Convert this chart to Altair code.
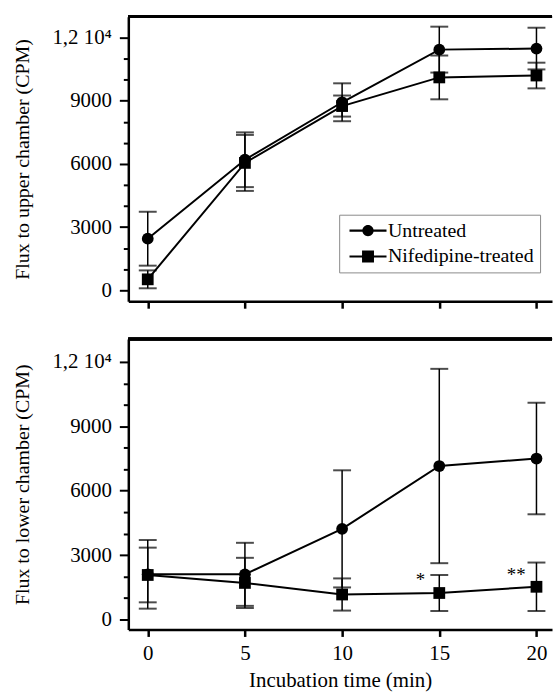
import altair as alt
import pandas as pd

# ---- data ----
times = [0, 5, 10, 15, 20]
series_names = ["Untreated", "Nifedipine-treated"]

upper_untreated = [2450, 6200, 8930, 11430, 11480]
upper_untreated_err = [1280, 1300, 900, 1090, 990]
upper_nif = [520, 6050, 8750, 10110, 10200]
upper_nif_err = [425, 1330, 500, 1040, 610]

lower_untreated = [2100, 2100, 4220, 7150, 7500]
lower_untreated_err = [1600, 1470, 2730, 4530, 2600]
lower_nif = [2070, 1700, 1160, 1230, 1520]
lower_nif_err = [1275, 1170, 750, 840, 1130]

star_t = [14.03, 18.96]
star_y = [1850, 2080]
star_text = ["*", "**"]

y_ticks = list(range(0, 13000, 1000))
x_ticks = [0, 5, 10, 15, 20]

FONT = "Liberation Serif"
W = 426


def make_df(unt, unt_err, nif, nif_err):
    rows = []
    for name, vals, errs in [(series_names[0], unt, unt_err), (series_names[1], nif, nif_err)]:
        for t, v, e in zip(times, vals, errs):
            rows.append({"series": name, "t": t, "v": v, "lo": v - e, "hi": v + e})
    return pd.DataFrame(rows)


upper_df = make_df(upper_untreated, upper_untreated_err, upper_nif, upper_nif_err)
lower_df = make_df(lower_untreated, lower_untreated_err, lower_nif, lower_nif_err)
stars_df = pd.DataFrame({"t": star_t, "v": star_y, "s": star_text})

LINE_PATH = "M-3.1,-0.17H3.1V0.17H-3.1Z"
CIRC_PATH = LINE_PATH + "M0.95,0A0.95,0.95 0 1,1 -0.95,0A0.95,0.95 0 1,1 0.95,0Z"
SQ_PATH = LINE_PATH + "M-1,-1H1V1H-1Z"


def panel(df, ytitle, ydomain, height, show_xlabels, with_legend, with_stars):
    xscale = alt.Scale(domain=[-1, 20.8], nice=False, zero=False)
    yscale = alt.Scale(domain=ydomain, nice=False, zero=False)
    xaxis = alt.Axis(
        values=x_ticks, labels=show_xlabels, title="Incubation time (min)" if show_xlabels else None,
        tickSize=7, tickWidth=2.5, domainWidth=2.5, grid=False, labelPadding=6,
        titlePadding=6, labelFontSize=21, titleFontSize=21,
    )
    yaxis = alt.Axis(
        values=y_ticks,
        labelExpr="datum.value === 12000 ? '1,2 10\u2074' : (datum.value % 3000 === 0 ? '' + datum.value : '')",
        tickSize={"condition": {"test": "datum.value % 3000 === 0", "value": 9}, "value": 5},
        tickWidth=2, domainWidth=2.5, grid=False, labelOverlap=False, labelPadding=8,
        title=ytitle, titlePadding=20, labelFontSize=21, titleFontSize=20,
    )
    base = alt.Chart(df)
    xs = {"scale": xscale, "axis": xaxis}
    ys = {"scale": yscale, "axis": yaxis}
    lines = base.mark_line(color="black", strokeWidth=2).encode(
        x=alt.X("t:Q", **xs), y=alt.Y("v:Q", **ys), detail="series:N")
    bars = base.mark_rule(color="black", strokeWidth=1.5).encode(
        x=alt.X("t:Q", **xs), y=alt.Y("lo:Q", **ys), y2="hi:Q")
    cap_lo = base.mark_tick(color="black", orient="horizontal", size=18, thickness=2).encode(
        x=alt.X("t:Q", **xs), y=alt.Y("lo:Q", **ys))
    cap_hi = base.mark_tick(color="black", orient="horizontal", size=18, thickness=2).encode(
        x=alt.X("t:Q", **xs), y=alt.Y("hi:Q", **ys))
    shape = alt.Shape("series:N", scale=alt.Scale(domain=series_names, range=["circle", "square"]),
                      legend=None)
    pts = base.mark_point(filled=True, color="black", size=140, opacity=1).encode(
        x=alt.X("t:Q", **xs), y=alt.Y("v:Q", **ys), shape=shape)
    frame_top = alt.Chart(df).mark_rule(color="black", strokeWidth=2.5).encode(
        x=alt.value(0), x2=alt.value(W), y=alt.value(0))
    layers = [lines, bars, cap_lo, cap_hi, pts, frame_top]
    if with_legend:
        legend = alt.Legend(
            title=None, orient="none", legendX=212, legendY=199,
            symbolSize=144, symbolOffset=13, labelOffset=10,
            labelFont=FONT, labelFontSize=20, labelColor="black",
            symbolFillColor="black", symbolStrokeWidth=0, symbolOpacity=1,
            padding=6, rowPadding=6,
            strokeColor="#8a8a8a", fillColor="white",
        )
        leg_layer = base.mark_point(filled=True, color="black", size=144, opacity=0).encode(
            x=alt.X("t:Q", **xs), y=alt.Y("v:Q", **ys),
            shape=alt.Shape("series:N", scale=alt.Scale(domain=series_names, range=[CIRC_PATH, SQ_PATH]),
                            legend=legend))
        layers.append(leg_layer)
    if with_stars:
        stars = alt.Chart(stars_df).mark_text(font=FONT, fontSize=19, color="black",
                                              baseline="middle").encode(
            x=alt.X("t:Q", **xs), y=alt.Y("v:Q", **ys), text="s:N")
        layers.append(stars)
    return alt.layer(*layers).resolve_scale(shape="independent").properties(width=W, height=height)


top = panel(upper_df, "Flux to upper chamber (CPM)", [-520, 12990], 286, False, True, False)
bottom = panel(lower_df, "Flux to lower chamber (CPM)", [-470, 13070], 292, True, False, True)

chart = alt.vconcat(top, bottom, spacing=27).resolve_scale(shape="independent").resolve_legend(
    shape="independent"
).properties(
    padding={"left": 12, "top": 13, "right": 0, "bottom": 0}, background="white"
).configure_view(stroke=None).configure_axis(
    labelFont=FONT, labelColor="black", titleFont=FONT,
    titleFontWeight="normal", titleColor="black", domainColor="black", tickColor="black",
    labelOverlap=False,
)

chart.save("out.html", embed_options={"renderer": "svg", "actions": False})
